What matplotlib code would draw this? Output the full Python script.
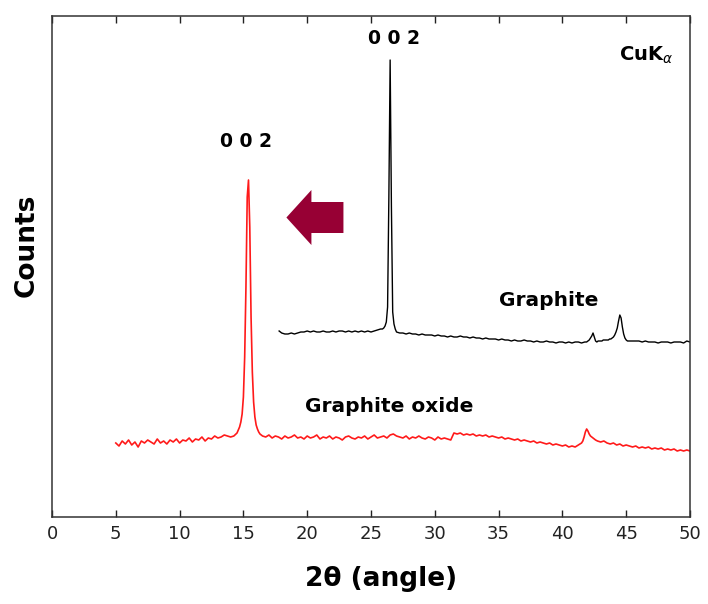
import numpy as np
import matplotlib
matplotlib.use("Agg")
import matplotlib.pyplot as plt
from matplotlib.patches import FancyArrow

# ---------------- data (arbitrary counts) ----------------
# Graphite oxide (red)
go_x = np.concatenate([
    np.arange(5.0, 14.5 + 1e-9, 0.25),
    np.arange(14.6, 16.4 + 1e-9, 0.1),
    np.arange(16.5, 31.25 + 1e-9, 0.25),
    np.arange(31.5, 41.5 + 1e-9, 0.25),
    np.arange(41.6, 42.6 + 1e-9, 0.1),
    np.arange(42.75, 50.0 + 1e-9, 0.25),
])
go_y = np.array([
    # 5.0 - 14.5
    74, 71, 76, 73, 77, 72, 75, 70, 76, 74,
    77, 75, 73, 78, 74, 76, 73, 77, 75, 78,
    74, 77, 76, 79, 75, 78, 77, 80, 76, 79,
    78, 81, 79, 80, 82, 81, 80, 81, 84,
    # 14.6 - 16.4 (002 peak)
    87, 90, 95, 103, 120, 160, 230, 320, 337, 290,
    200, 145, 115, 100, 92, 88, 85, 83, 82,
    # 16.5 - 31.25
    81, 80, 82, 79, 81, 80, 78, 81, 79, 80,
    82, 79, 80, 78, 81, 79, 80, 82, 78, 80,
    79, 81, 78, 80, 79, 77, 80, 81, 79, 78,
    80, 79, 81, 78, 80, 82, 79, 80, 81, 79,
    82, 83, 81, 80, 79, 81, 78, 80, 79, 81,
    79, 78, 80, 79, 77, 80, 78, 79, 78, 77,
    # 31.5 - 41.5
    84, 83, 84, 82, 83, 82, 83, 81, 82, 81,
    82, 80, 81, 80, 79, 80, 78, 79, 78, 77,
    78, 76, 77, 76, 75, 76, 74, 75, 74, 73,
    74, 72, 73, 72, 71, 72, 70, 71, 70, 72, 74,
    # 41.6 - 42.6
    76, 80, 85, 88, 86, 83, 81, 80, 79, 78, 77,
    # 42.75 - 50
    76, 75, 76, 74, 73, 74, 72, 73, 71, 72,
    71, 70, 71, 69, 70, 69, 70, 68, 69, 68,
    69, 67, 68, 67, 68, 66, 67, 66, 67, 66,
], dtype=float)

# Graphite (black)
gr_x = np.concatenate([
    [17.8],
    np.arange(18.0, 25.75 + 1e-9, 0.25),
    np.arange(25.9, 27.0 + 1e-9, 0.1),
    np.arange(27.25, 41.75 + 1e-9, 0.25),
    np.arange(41.9, 45.5 + 1e-9, 0.1),
    np.arange(45.75, 50.0 + 1e-9, 0.25),
])
gr_y = np.array([
    186,
    # 18.0 - 25.75
    184, 183, 183, 184, 183, 184, 185, 185,
    186, 185, 186, 185, 185, 186, 185, 185,
    186, 185, 186, 186, 185, 186, 185, 186,
    185, 186, 185, 186, 185, 186, 187, 188,
    # 25.9 - 27.0 (002 peak)
    188, 189, 191, 195, 210, 320, 457, 310, 205, 193, 188, 185,
    # 27.25 - 41.75
    184, 184, 183, 184, 183, 183, 182, 183, 182, 182,
    182, 181, 182, 181, 181, 180, 181, 180, 180, 181,
    180, 180, 179, 180, 179, 179, 178, 179, 178, 178,
    178, 177, 178, 177, 177, 176, 177, 176, 176, 177,
    176, 176, 175, 176, 175, 175, 176, 175, 175, 174,
    175, 175, 174, 175, 174, 175, 175, 174, 175,
    # 41.9 - 45.5
    175, 176, 177, 179, 181, 184, 180, 176, 175, 176, 176,
    176, 176, 177, 177, 177, 177, 177, 178, 178, 179,
    180, 182, 185, 189, 196, 202, 199, 190, 183, 179,
    177, 176, 176, 176, 176, 176,
    # 45.75 - 50
    176, 176, 175, 176, 175, 175, 175, 174, 175, 175,
    175, 174, 175, 175, 175, 174, 176, 175,
], dtype=float)

assert len(go_x) == len(go_y), (len(go_x), len(go_y))
assert len(gr_x) == len(gr_y), (len(gr_x), len(gr_y))

x_ticks = [0, 5, 10, 15, 20, 25, 30, 35, 40, 45, 50]

# ---------------- figure ----------------
fig = plt.figure(figsize=(7.08, 6.04), dpi=100)
ax = fig.add_axes([52/708, 1 - 517/604, (690 - 52)/708, (517 - 16)/604])

ax.plot(gr_x, gr_y, color="black", lw=1.0)
ax.plot(go_x, go_y, color="#ff1a1a", lw=1.2)

ax.set_xlim(0, 50)
ax.set_ylim(0, 501)
ax.set_xticks(x_ticks)
ax.set_yticks([])
ax.tick_params(axis="x", direction="in", length=5, width=1, top=True,
               labelsize=13, pad=6, colors="#222222")
for s in ax.spines.values():
    s.set_linewidth(1.1)
    s.set_color("#333333")

ax.set_xlabel("2θ (angle)", fontsize=19, fontweight="bold")
ax.xaxis.set_label_coords(0.515, -0.098)
ax.set_ylabel("Counts", fontsize=19, fontweight="bold")
ax.yaxis.set_label_coords(-0.02, 0.543)

# annotations
ax.text(26.8, 478, "0 0 2", fontsize=13.5, fontweight="bold", ha="center", va="center")
ax.text(15.2, 376, "0 0 2", fontsize=13.5, fontweight="bold", ha="center", va="center")
ax.text(46.6, 462, r"CuK$_{\alpha}$", fontsize=14, fontweight="bold", ha="center", va="center")
ax.text(38.9, 217, "Graphite", fontsize=14.5, fontweight="bold", ha="center", va="center")
ax.text(26.4, 111, "Graphite oxide", fontsize=14.5, fontweight="bold", ha="center", va="center")

arrow_tail_x, arrow_tip_x, arrow_y = 22.84, 18.37, 299.5
ax.add_patch(FancyArrow(arrow_tail_x, arrow_y, arrow_tip_x - arrow_tail_x, 0,
                        width=31, head_width=55, head_length=1.96,
                        length_includes_head=True, color="#970034", lw=0))

fig.savefig("out.png", dpi=100)
